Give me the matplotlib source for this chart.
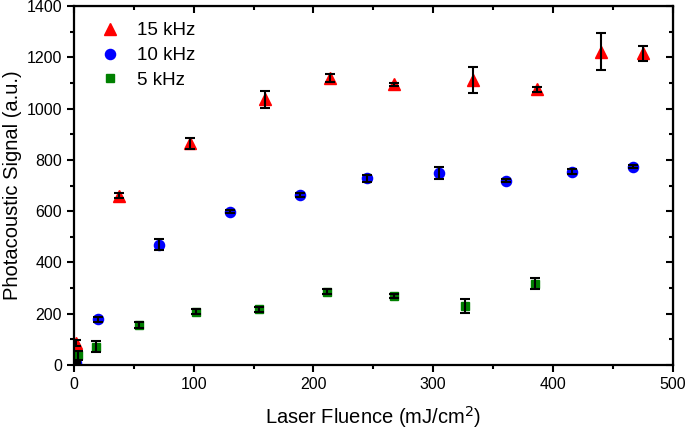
import matplotlib.pyplot as plt
from matplotlib.ticker import MultipleLocator

plt.rcParams['font.family'] = ['Liberation Sans', 'DejaVu Sans']

# 15 kHz
x15 = [1.5, 37.8, 96.8, 159.4, 214.2, 267.1, 333.3, 387.0, 439.9, 475.2]
y15 = [85, 660, 864, 1036, 1120, 1095, 1111, 1075, 1222, 1215]
e15 = [12, 10, 20, 32, 15, 6, 52, 10, 73, 30]

# 10 kHz
x10 = [2.0, 20.3, 70.9, 130.2, 188.6, 244.8, 304.7, 361.2, 416.2, 466.9]
y10 = [8, 178, 470, 598, 663, 728, 750, 718, 754, 773]
e10 = [5, 10, 23, 5, 8, 15, 24, 6, 10, 6]

# 5 kHz
x5 = [3.5, 18.4, 54.5, 101.6, 154.4, 210.9, 267.1, 326.9, 384.8]
y5 = [38, 72, 156, 208, 217, 286, 270, 230, 318]
e5 = [18, 20, 12, 10, 10, 10, 8, 28, 22]

fig = plt.figure(figsize=(6.85, 4.3), dpi=100)
ax = fig.add_axes([0.108, 0.151, 0.874, 0.835])

series = [
    (x15, y15, e15, '^', 'red', 8.5, '15 kHz'),
    (x10, y10, e10, 'o', 'blue', 7.3, '10 kHz'),
    (x5, y5, e5, 's', 'green', 5.6, '5 kHz'),
]
for x, y, e, m, c, ms, lab in series:
    ax.plot(x, y, linestyle='none', marker=m, color=c, markersize=ms, label=lab, zorder=2)
    ax.errorbar(x, y, yerr=e, fmt='none', ecolor='black', elinewidth=1.5,
                capsize=3.3, capthick=1.5, zorder=3)

ax.set_xlim(0, 500)
ax.set_ylim(0, 1400)
ax.xaxis.set_major_locator(MultipleLocator(100))
ax.xaxis.set_minor_locator(MultipleLocator(50))
ax.yaxis.set_major_locator(MultipleLocator(200))
ax.yaxis.set_minor_locator(MultipleLocator(100))

for s in ax.spines.values():
    s.set_linewidth(1.6)
ax.tick_params(which='both', direction='out', width=1.5, labelsize=11.5)
ax.tick_params(which='major', length=5)
ax.tick_params(which='minor', length=3)

# mirrored ticks on top and right pointing inward
top = ax.secondary_xaxis('top')
top.xaxis.set_major_locator(MultipleLocator(100))
top.xaxis.set_minor_locator(MultipleLocator(50))
top.tick_params(which='both', direction='in', width=1.5, labeltop=False)
top.tick_params(which='major', length=5)
top.tick_params(which='minor', length=3)
right = ax.secondary_yaxis('right')
right.yaxis.set_major_locator(MultipleLocator(200))
right.yaxis.set_minor_locator(MultipleLocator(100))
right.tick_params(which='both', direction='in', width=1.5, labelright=False)
right.tick_params(which='major', length=5)
right.tick_params(which='minor', length=3)

ax.set_xlabel('Laser Fluence (mJ/cm$^2$)', fontsize=14.5, labelpad=9)
ax.set_ylabel('Photacoustic Signal (a.u.)', fontsize=14.5, labelpad=3)

ax.legend(loc='upper left', frameon=False, fontsize=13.5, handlelength=1,
          handletextpad=0.95, borderaxespad=0, labelspacing=0.41,
          bbox_to_anchor=(0.032, 0.976))

fig.savefig('out.png', dpi=100)
